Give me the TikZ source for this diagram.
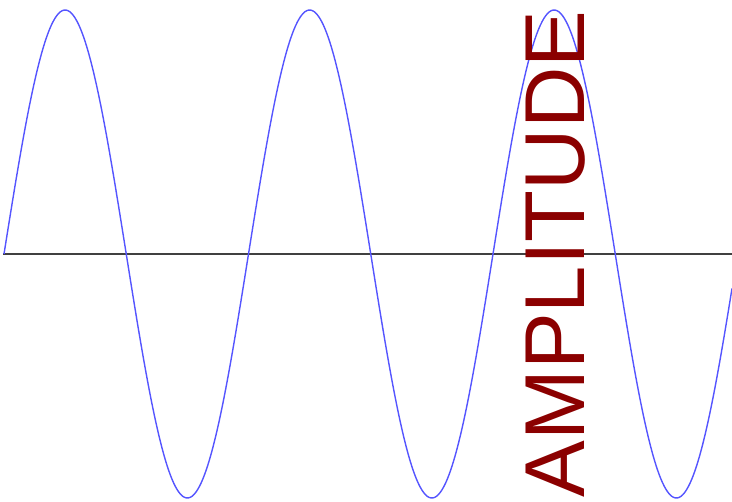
\documentclass[tikz,border=0pt]{standalone}
\usepackage{fontspec}
\setmainfont{Liberation Sans}
\usetikzlibrary{positioning}
\definecolor{wavecol}{RGB}{85,85,255}
\definecolor{labcol}{RGB}{139,0,0}

\begin{document}
\begin{tikzpicture}[x=0.02cm,y=-0.02cm,
  wave/.style={wavecol,line width=0.8pt},
  ax/.style={black!75,line width=0.9pt},
  lab/.style={labcol,font=\fontsize{48.4}{48.4}\selectfont,inner sep=0pt,rotate=90}]
\useasboundingbox (0,0) rectangle (732,501);

% --- axis and wave ---
\coordinate (l) at (3,254);
\coordinate (r) at (732,254);
\draw[ax] (l) -- (r);
\draw[wave] plot[domain=4:732,samples=400,smooth] (\x,{254-244*sin(1.47239*(\x-4))});

% --- label ---
\node[lab] (amp) at (556,254) {AMPLITUDE};
\end{tikzpicture}
\end{document}
